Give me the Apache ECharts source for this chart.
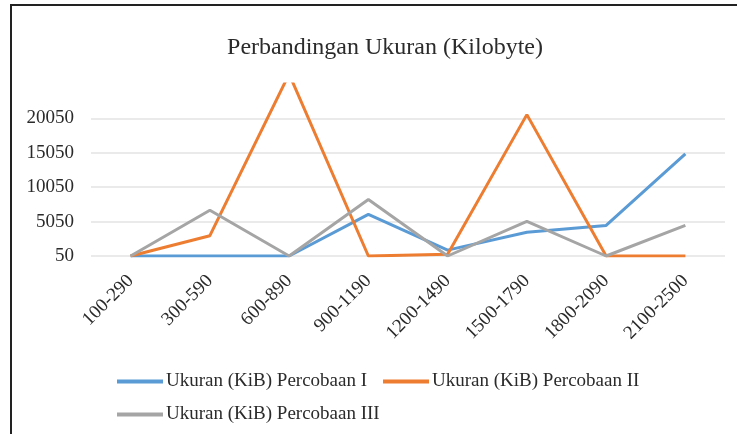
<!DOCTYPE html>
<html>
<head>
<meta charset="utf-8">
<script src="https://cdn.jsdelivr.net/npm/echarts@6/dist/echarts.min.js"></script>
<style>
  html, body { margin: 0; padding: 0; background: #fff; }
  #chart { width: 737px; height: 434px; }
  /* bingkai kiri & atas */
  .frame { position: absolute; left: 10px; top: 4px; right: 0; bottom: 0;
    border-left: 2px solid #222; border-top: 2px solid #222; pointer-events: none; }
</style>
</head>
<body>
<div id="chart"></div>
<div class="frame"></div>
<script>
const categories = ['100-290', '300-590', '600-890', '900-1190', '1200-1490', '1500-1790', '1800-2090', '2100-2500'];
const percobaan1 = [50, 50, 50, 6100, 900, 3500, 4500, 14900];
const percobaan2 = [50, 3000, 26500, 50, 300, 20600, 50, 50];
const percobaan3 = [50, 6700, 50, 8250, 50, 5100, 50, 4500];
const seriesNames = ['Ukuran (KiB) Percobaan I', 'Ukuran (KiB) Percobaan II', 'Ukuran (KiB) Percobaan III'];

const font = '"Liberation Serif", "DejaVu Serif", serif';
const chart = echarts.init(document.getElementById('chart'));

const lineSeries = (name, data, color) => ({
  name: name,
  type: 'line',
  data: data,
  symbol: 'none',
  lineStyle: { color: color, width: 3 },
  itemStyle: { color: color }
});

const legendBase = {
  orient: 'horizontal',
  left: 112,
  icon: 'rect',
  itemWidth: 46,
  itemHeight: 4,
  itemGap: 16,
  textStyle: { fontFamily: font, fontSize: 19, color: '#2b2b2b', padding: [0, 0, 0, -2] }
};

chart.setOption({
  animation: false,
  title: {
    text: 'Perbandingan Ukuran (Kilobyte)',
    left: 380,
    textAlign: 'center',
    top: 31,
    textStyle: { fontFamily: font, fontSize: 24, fontWeight: 'normal', color: '#2b2b2b' }
  },
  legend: [
    Object.assign({}, legendBase, { top: 367, data: [seriesNames[0], seriesNames[1]] }),
    Object.assign({}, legendBase, { top: 400, data: [seriesNames[2]] })
  ],
  grid: { left: 91, right: 12, top: 84, bottom: 178, containLabel: false },
  xAxis: {
    type: 'category',
    data: categories,
    axisLine: { show: false },
    axisTick: { show: false },
    axisLabel: { rotate: 45, margin: 22, fontFamily: font, fontSize: 19, color: '#2b2b2b', interval: 0 }
  },
  yAxis: {
    type: 'value',
    min: 50,
    max: 25050,
    interval: 5000,
    axisLine: { show: false },
    axisTick: { show: false },
    axisLabel: {
      showMaxLabel: false, margin: 17, fontFamily: font, fontSize: 19, color: '#2b2b2b',
      formatter: v => String(v)
    },
    splitLine: {
      lineStyle: { color: ['#e3e3e3', '#e3e3e3', '#e3e3e3', '#e3e3e3', '#e3e3e3', 'rgba(0,0,0,0)'], width: 1.5 }
    }
  },
  series: [
    lineSeries(seriesNames[0], percobaan1, '#5B9BD5'),
    lineSeries(seriesNames[1], percobaan2, '#ED7D31'),
    lineSeries(seriesNames[2], percobaan3, '#A5A5A5')
  ]
});
</script>
</body>
</html>
